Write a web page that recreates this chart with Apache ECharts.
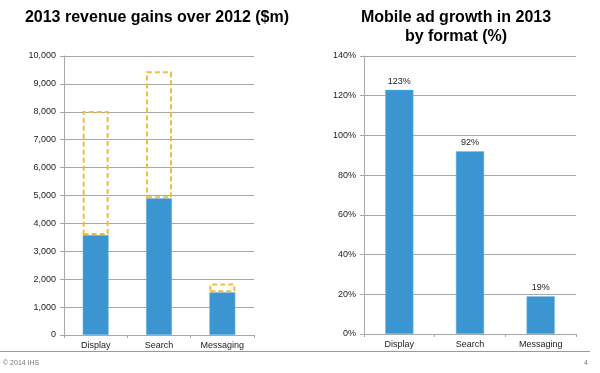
<!DOCTYPE html>
<html>
<head>
<meta charset="utf-8">
<script src="https://cdn.jsdelivr.net/npm/echarts@6/dist/echarts.min.js"></script>
<style>html,body{margin:0;padding:0;background:#fff}#c{width:600px;height:373px}</style>
</head>
<body>
<div id="c"></div>
<script>
// Data
var categories = ['Display', 'Search', 'Messaging'];
var revenueGain = [3580, 4900, 1530];          // solid blue bars ($m)
var revenueGainTop = [8030, 9450, 1850];       // top of dashed outline ($m)
var growthPct = [123, 92, 19];                 // mobile ad growth (%)
var leftTicks = ['0', '1,000', '2,000', '3,000', '4,000', '5,000', '6,000', '7,000', '8,000', '9,000', '10,000'];
var rightTicks = ['0%', '20%', '40%', '60%', '80%', '100%', '120%', '140%'];

var dashedPart = revenueGainTop.map(function (v, i) { return v - revenueGain[i]; });

var FONT = '"Liberation Sans", Arial, sans-serif';
var BLUE = '#3a95d1';
var GOLD = '#f3bd36';
var GRID = '#a8a8a8';

var chart = echarts.init(document.getElementById('c'), null, { renderer: 'canvas' });

function yAxisCommon(max, interval, fmt) {
  return {
    type: 'value', min: 0, max: max, interval: interval,
    axisLine: { show: true, lineStyle: { color: GRID, width: 1 } },
    axisTick: { show: true, inside: false, length: 4, lineStyle: { color: GRID } },
    splitLine: { show: true, lineStyle: { color: GRID, width: 1 } },
    axisLabel: { formatter: fmt, color: '#222', fontSize: 9, fontFamily: FONT, margin: 8 }
  };
}
function xAxisCommon(gridIndex) {
  return {
    type: 'category', gridIndex: gridIndex, data: categories,
    axisLine: { show: true, lineStyle: { color: GRID, width: 1 } },
    axisTick: { show: true, length: 3, alignWithLabel: false, lineStyle: { color: GRID } },
    axisLabel: { color: '#222', fontSize: 9, fontFamily: FONT, margin: 6 }
  };
}

var yl = yAxisCommon(10000, 1000, function (v) { return leftTicks[Math.round(v / 1000)]; });
yl.gridIndex = 0;
var yr = yAxisCommon(140, 20, function (v) { return rightTicks[Math.round(v / 20)]; });
yr.gridIndex = 1;

chart.setOption({
  animation: false,
  backgroundColor: '#fff',
  title: [
    { text: '2013 revenue gains over 2012 ($m)', left: 157, top: 8, padding: 0, textAlign: 'center',
      textStyle: { fontFamily: FONT, fontSize: 16, fontWeight: 'bold', color: '#000', lineHeight: 19 } },
    { text: 'Mobile ad growth in 2013\nby format (%)', left: 456, top: 8, padding: 0, textAlign: 'center',
      textStyle: { fontFamily: FONT, fontSize: 16, fontWeight: 'bold', color: '#000', lineHeight: 19 } },
    { text: '\u00a9 2014 IHS', left: 3, top: 360, padding: 0,
      textStyle: { fontFamily: FONT, fontSize: 7, fontWeight: 'normal', color: '#777' } },
    { text: '4', left: 584, top: 360, padding: 0,
      textStyle: { fontFamily: FONT, fontSize: 7, fontWeight: 'normal', color: '#777' } }
  ],
  grid: [
    { left: 64, right: 346, top: 56, bottom: 38 },
    { left: 364, right: 24, top: 56, bottom: 39 }
  ],
  xAxis: [xAxisCommon(0), xAxisCommon(1)],
  yAxis: [yl, yr],
  graphic: [
    { type: 'line', shape: { x1: 0, y1: 351.5, x2: 590, y2: 351.5 },
      style: { stroke: '#9a9a9a', lineWidth: 1 }, silent: true }
  ],
  series: [
    { type: 'bar', xAxisIndex: 0, yAxisIndex: 0, stack: 'rev', barWidth: '41%',
      data: revenueGain, itemStyle: { color: BLUE, borderColor: '#7fbfe6', borderWidth: 0.5 } },
    { type: 'bar', xAxisIndex: 0, yAxisIndex: 0, stack: 'rev', barWidth: '41%',
      data: dashedPart,
      itemStyle: { color: 'rgba(0,0,0,0)', borderColor: GOLD, borderWidth: 2, borderType: [5, 3] } },
    { type: 'bar', xAxisIndex: 1, yAxisIndex: 1, barWidth: '40%',
      data: growthPct, itemStyle: { color: BLUE, borderColor: '#7fbfe6', borderWidth: 0.5 },
      label: { show: true, position: 'top', distance: 4, formatter: '{c}%',
        color: '#222', fontSize: 9, fontFamily: FONT } }
  ]
});
</script>
</body>
</html>
